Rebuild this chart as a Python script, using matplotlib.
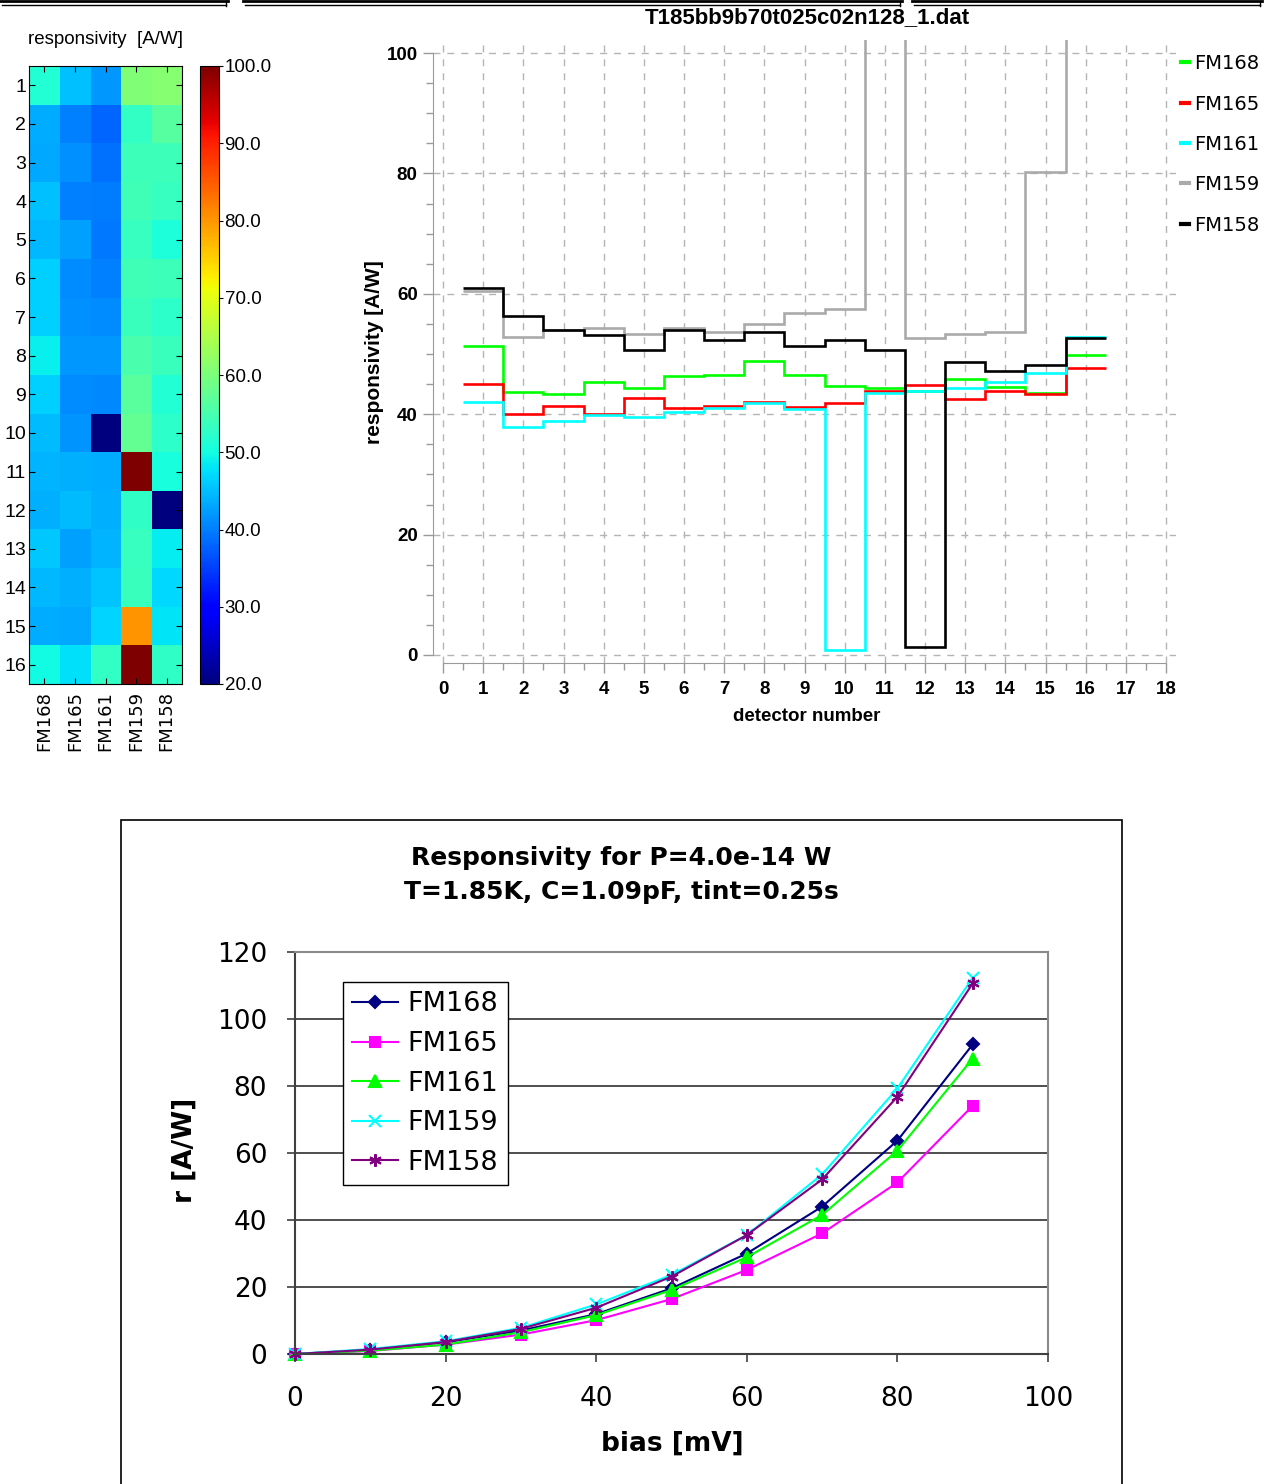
import numpy as np
import matplotlib.pyplot as plt
from matplotlib.lines import Line2D
from matplotlib.patches import Rectangle

W, H = 1270, 1484
SANS = ['Liberation Sans', 'DejaVu Sans']

# detector responsivity per module [A/W] (FM159 pixels 11 and 16 saturate off scale)
modules = ['FM168', 'FM165', 'FM161', 'FM159', 'FM158']
detectors = np.arange(1, 17)
fm168 = [51.3, 43.7, 43.4, 45.3, 44.4, 46.3, 46.5, 48.8, 46.5, 44.7, 44.3, 43.9, 45.9, 44.6, 43.5, 49.9]
fm165 = [45.0, 40.0, 41.4, 40.1, 42.7, 41.1, 41.4, 42.1, 41.2, 41.8, 43.8, 44.9, 42.5, 43.8, 43.3, 47.7]
fm161 = [42.0, 37.9, 38.9, 39.8, 39.5, 40.3, 41.1, 41.9, 40.9, 0.8, 43.6, 43.9, 44.3, 45.4, 46.8, 52.9]
fm159 = [60.5, 52.9, 54.0, 54.3, 53.4, 54.3, 53.6, 55.0, 56.8, 57.5, 140.0, 52.7, 53.4, 53.6, 80.3, 140.0]
fm158 = [61.0, 56.3, 54.0, 53.2, 50.7, 54.0, 52.4, 53.6, 51.3, 52.4, 50.6, 1.3, 48.6, 47.1, 48.1, 52.7]

# responsivity vs bias [mV]
bias = [0, 10, 20, 30, 40, 50, 60, 70, 80, 90]
r168 = [0, 1.2, 3.5, 7.0, 11.9, 19.6, 30.0, 44.0, 63.7, 92.4]
r165 = [0, 0.9, 2.8, 5.8, 10.1, 16.4, 25.1, 36.0, 51.2, 74.1]
r161 = [0, 1.0, 2.8, 6.5, 11.6, 19.1, 28.9, 41.5, 60.7, 88.2]
r159 = [0, 1.5, 3.8, 7.8, 14.8, 23.6, 35.5, 53.6, 79.3, 112.3]
r158 = [0, 1.3, 3.6, 7.5, 13.8, 23.1, 35.5, 52.1, 76.8, 110.6]


def box(x0, y0, x1, y1):
    # pixel box (top-left origin) -> figure fraction rect
    return [x0 / W, 1 - y1 / H, (x1 - x0) / W, (y1 - y0) / H]


fig = plt.figure(figsize=(W / 100, H / 100), dpi=100)

# borders of the neighbouring panels along the top edge
for x0, x1 in [(0, 228), (243, 902), (912, 1262)]:
    fig.add_artist(Line2D([x0 / W, x1 / W], [1 - 1.2 / H] * 2, color='black', lw=2.0))
    fig.add_artist(Line2D([(x0 + 2) / W, (x1 - 2) / W], [1 - 5.2 / H] * 2, color='black', lw=1.0))
    fig.add_artist(Line2D([(x1 - 2) / W] * 2, [1 - 1 / H, 1 - 5.5 / H], color='black', lw=1.0))

# ---- heat map of the detector array ----
ax_map = fig.add_axes(box(29, 66, 182, 684))
grid = np.array([fm168, fm165, fm161, fm159, fm158]).T
im = ax_map.imshow(grid, cmap='jet', vmin=20, vmax=100, aspect='auto', interpolation='nearest')
ax_map.set_xticks(range(len(modules)))
ax_map.set_xticklabels(modules, rotation=90, fontsize=13, family='DejaVu Sans')
ax_map.set_yticks(range(len(detectors)))
ax_map.set_yticklabels([str(d) for d in detectors], fontsize=14, family=SANS)
ax_map.tick_params(direction='in', top=True, right=True, length=4, width=0.8)
ax_map.tick_params(axis='y', pad=2)
ax_map.tick_params(axis='x', pad=5)
fig.text(106 / W, 1 - 40 / H, 'responsivity  [A/W]', ha='center', va='center',
         fontsize=13.5, family=SANS)

cax = fig.add_axes(box(200, 66, 219, 684))
cb = fig.colorbar(im, cax=cax, ticks=np.arange(20, 101, 10), format='%.1f')
cb.outline.set_linewidth(0.8)
cb.ax.tick_params(labelsize=13.5, length=3, width=0.8, pad=1)
for t in cb.ax.get_yticklabels():
    t.set_family(SANS)

# ---- responsivity per detector ----
ax = fig.add_axes(box(433, 39.8, 1176.1, 663))
edges = np.arange(0.5, 17.5)
step_colors = ['#00ff00', '#ff0000', '#00ffff', '#aaaaaa', '#000000']
for name, vals, c in zip(modules, [fm168, fm165, fm161, fm159, fm158], step_colors):
    ax.stairs(vals, edges, baseline=None, color=c, lw=1.9)
ax.set_xlim(-0.25, 18.25)
ax.set_ylim(-1.33, 102.2)
ax.set_xticks(range(19))
ax.set_xticks(np.arange(0.5, 18, 1), minor=True)
ax.set_yticks(range(0, 101, 20))
ax.set_yticks(range(0, 101, 5), minor=True)
ax.grid(True, which='major', ls=(0, (5, 5)), color='#b4b4b4', lw=1)
ax.set_axisbelow(True)
for s in ['top', 'right']:
    ax.spines[s].set_visible(False)
for s in ['left', 'bottom']:
    ax.spines[s].set_color('#9a9a9a')
ax.spines['left'].set_bounds(0, 100)
ax.spines['bottom'].set_bounds(0, 18)
ax.tick_params(which='major', length=7, width=1, color='#9a9a9a', labelsize=13.5)
ax.tick_params(which='minor', length=5, width=1, color='#9a9a9a')
ax.tick_params(axis='x', pad=6)
ax.tick_params(axis='y', pad=4)
for t in ax.get_xticklabels() + ax.get_yticklabels():
    t.set_fontweight('bold')
    t.set_family(SANS)
handles = [Line2D([], [], color=c, lw=3) for c in step_colors]
ax.legend(handles, modules, loc='upper left', bbox_to_anchor=(1.006, 0.977),
          frameon=False, fontsize=14, handlelength=0.45, handletextpad=0.25,
          labelspacing=1.1, borderpad=0, borderaxespad=0)
fig.text(807 / W, 1 - 18 / H, 'T185bb9b70t025c02n128_1.dat', ha='center', va='center',
         fontsize=16, fontweight='bold', family=SANS)
fig.text(375 / W, 1 - 352 / H, 'responsivity [A/W]', rotation=90, ha='center', va='center',
         fontsize=15, fontweight='bold', family=SANS)
fig.text(807 / W, 1 - 716 / H, 'detector number', ha='center', va='center',
         fontsize=13.5, fontweight='bold', family=SANS)

# ---- responsivity vs bias ----
fig.add_artist(Rectangle((120.5 / W, -0.01), 1001.5 / W, (1484 - 820.5) / H + 0.01,
                         transform=fig.transFigure, fill=False, ec='black', lw=1.2))
ax2 = fig.add_axes(box(295, 952, 1048, 1354))
curve_colors = ['#000080', '#ff00ff', '#00ff00', '#00ffff', '#800080']
markers = ['D', 's', '^', 'x', (6, 2, 0)]
sizes = [6, 7, 8, 9, 9]
for name, r, c, m, ms in zip(modules, [r168, r165, r161, r159, r158], curve_colors, markers, sizes):
    ax2.plot(bias, r, color=c, marker=m, ms=ms, mew=1.5, lw=1.5, label=name, clip_on=False)
ax2.set_xlim(0, 100)
ax2.set_ylim(0, 120)
ax2.set_xticks(range(0, 101, 20))
ax2.set_yticks(range(0, 121, 20))
ax2.yaxis.grid(True, color='#404040', lw=1.3)
ax2.set_axisbelow(True)
for s in ['left', 'bottom']:
    ax2.spines[s].set_color('#404040')
    ax2.spines[s].set_linewidth(1.5)
for s in ['top', 'right']:
    ax2.spines[s].set_color('#8a8a8a')
    ax2.spines[s].set_linewidth(1.5)
ax2.tick_params(length=6, width=1.2, color='#404040', labelsize=19)
ax2.tick_params(axis='x', pad=17)
ax2.tick_params(axis='y', pad=14)
leg = ax2.legend(loc='upper left', bbox_to_anchor=(0.0637, 0.9254), fontsize=19.5,
                 handlelength=1.7, handletextpad=0.34, labelspacing=0.5, borderpad=0.35,
                 borderaxespad=0, fancybox=False, framealpha=1, edgecolor='black')
leg.get_frame().set_linewidth(1.0)
fig.text(621 / W, 1 - 875 / H, 'Responsivity for P=4.0e-14 W\nT=1.85K, C=1.09pF, tint=0.25s',
         ha='center', va='center', fontsize=18, fontweight='bold', linespacing=1.55)
fig.text(185 / W, 1 - 1150 / H, 'r [A/W]', rotation=90, ha='center', va='center',
         fontsize=19, fontweight='bold')
fig.text(672 / W, 1 - 1444 / H, 'bias [mV]', ha='center', va='center',
         fontsize=19, fontweight='bold')

plt.savefig('out.png', dpi=100)
